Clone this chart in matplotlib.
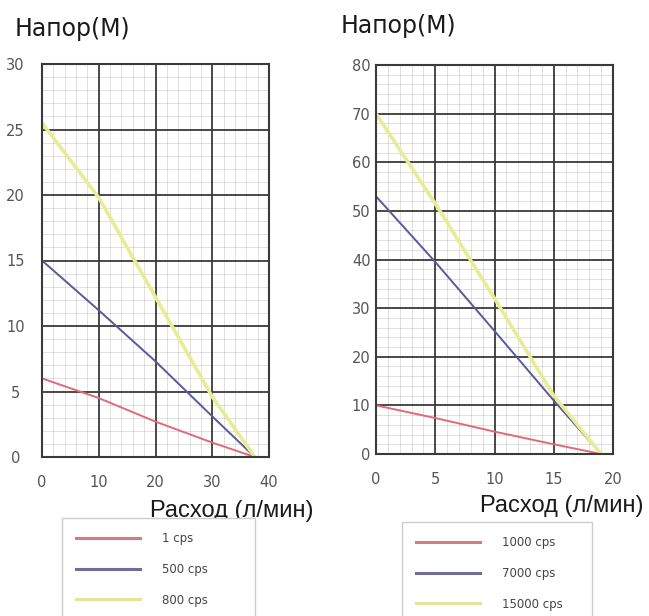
import matplotlib
matplotlib.use("Agg")
import matplotlib.pyplot as plt
from matplotlib.ticker import MultipleLocator

W, H = 649, 616

# left pump: flow (l/min) vs head (m)
left_flow = [0, 10, 20, 30, 37.5]
left_1cps = [6, 4.5, 2.7, 1.1, 0]
left_500cps = [15, 11.2, 7.3, 3.1, 0]
left_800cps = [25.5, 19.8, 12.2, 4.6, 0]
left_labels = ["1 cps", "500 cps", "800 cps"]

# right pump
right_flow = [0, 5, 10, 15, 19]
right_1000cps = [10, 7.4, 4.6, 2.0, 0]
right_7000cps = [53, 39.5, 25.3, 11, 0]
right_15000cps = [70, 51.5, 32, 12, 0]
right_labels = ["1000 cps", "7000 cps", "15000 cps"]

RED = "#e06a78"
BLUE = "#5a5a98"
YELLOW = "#e6ed96"
LEG_RED = "#d47a80"
LEG_BLUE = "#6e6e9c"
LEG_YELLOW = "#e0e798"


def px(x0, y0, x1, y1):
    return [x0 / W, 1 - y1 / H, (x1 - x0) / W, (y1 - y0) / H]


def style_axes(ax, xmax, ymax, xmaj, xmin, ymaj, ymin, ylab_pad, ylab_ha):
    ax.set_xlim(0, xmax)
    ax.set_ylim(0, ymax)
    ax.xaxis.set_major_locator(MultipleLocator(xmaj))
    ax.xaxis.set_minor_locator(MultipleLocator(xmin))
    ax.yaxis.set_major_locator(MultipleLocator(ymaj))
    ax.yaxis.set_minor_locator(MultipleLocator(ymin))
    # translucent minor grid so it never paints over the dark major lines
    ax.grid(which="minor", color="black", alpha=0.12, lw=0.7)
    ax.grid(which="major", color="#3a3a3a", lw=1.3)
    ax.set_axisbelow(True)
    for s in ax.spines.values():
        s.set_color("#3a3a3a")
        s.set_linewidth(1.5)
    ax.tick_params(which="both", length=0, labelsize=10.5, labelcolor="#555555")
    ax.tick_params(axis="x", pad=13)
    ax.tick_params(axis="y", pad=ylab_pad)
    for t in ax.get_yticklabels():
        t.set_ha(ylab_ha)


def add_legend(fig, handles, labels, box):
    x0, y0, x1 = box
    top = 1 - y0 / H
    fig.legend(handles, labels, loc="upper left",
               bbox_to_anchor=(x0 / W, top - 0.3, (x1 - x0) / W, 0.3),
               mode="expand", borderaxespad=0, fontsize=8.5,
               handlelength=5.4, handletextpad=1.9, labelspacing=1.5,
               borderpad=1.2, fancybox=False, framealpha=1,
               edgecolor="#cccccc", labelcolor="#444444")


fig = plt.figure(figsize=(W / 100, H / 100), dpi=100)

# left chart
ax1 = fig.add_axes(px(42, 64, 269, 457))
ax1.plot(left_flow, left_1cps, color=RED, lw=1.4)
ax1.plot(left_flow, left_500cps, color=BLUE, lw=1.4)
ax1.plot(left_flow, left_800cps, color=YELLOW, lw=2.6)
style_axes(ax1, 40, 30, 10, 2, 5, 1, 19, "center")

# right chart
ax2 = fig.add_axes(px(376, 65, 613, 454))
ax2.plot(right_flow, right_1000cps, color=RED, lw=1.4)
ax2.plot(right_flow, right_7000cps, color=BLUE, lw=1.4)
ax2.plot(right_flow, right_15000cps, color=YELLOW, lw=2.6)
style_axes(ax2, 20, 80, 5, 1, 10, 2, 4, "right")

# legend handles drawn in the lighter legend colours
handles = [plt.Line2D([], [], color=c, lw=2.2) for c in (LEG_RED, LEG_BLUE, LEG_YELLOW)]
add_legend(fig, handles, left_labels, (62, 518, 255))
add_legend(fig, handles, right_labels, (402, 522, 592))

# axis titles
fig.text(15 / W, 1 - 36 / H, "Напор(М)", fontsize=17, family="DejaVu Sans",
         color="#1a1a1a", va="baseline")
fig.text(341 / W, 1 - 33 / H, "Напор(М)", fontsize=17, family="DejaVu Sans",
         color="#1a1a1a", va="baseline")
bb = dict(facecolor="white", edgecolor="none", pad=2)
fig.text(150 / W, 1 - 517 / H, "Расход (л/мин)", fontsize=17,
         family="Liberation Sans", color="#1a1a1a", va="baseline", bbox=bb)
fig.text(480 / W, 1 - 512 / H, "Расход (л/мин)", fontsize=17,
         family="Liberation Sans", color="#1a1a1a", va="baseline", bbox=bb)

fig.savefig("out.png", dpi=100)
